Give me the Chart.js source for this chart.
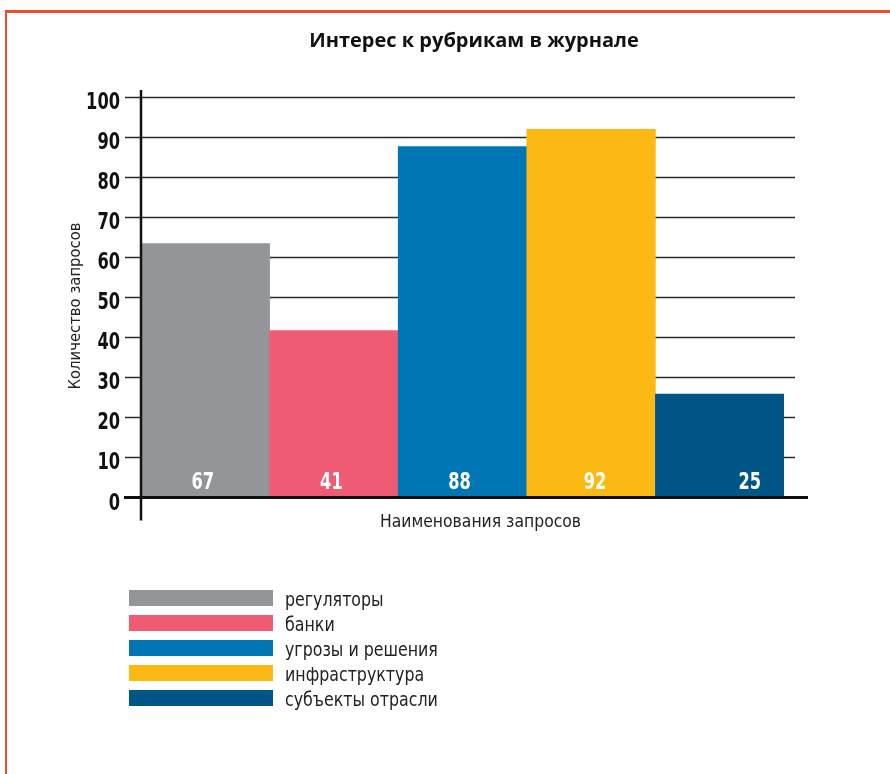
<!DOCTYPE html>
<html>
<head>
<meta charset="utf-8">
<script src="https://cdn.jsdelivr.net/npm/chart.js@4.4.0/dist/chart.umd.min.js"></script>
<style>
  html, body { margin:0; padding:0; background:#fff; }
  #frame { position:absolute; left:5px; top:10px; width:885px; height:764px;
           border-top:3px solid #f04a2d; border-left:2px solid #f04a2d; box-sizing:border-box; }
  #wrap  { position:absolute; left:0; top:0; width:890px; height:774px; }
</style>
</head>
<body>
<div id="frame"></div>
<div id="wrap"><canvas id="chart" width="890" height="774"></canvas></div>
<script>
const chartTitle  = "Интерес к рубрикам в журнале";
const yTitle      = "Количество запросов";
const xTitle      = "Наименования запросов";
const categories  = ["регуляторы", "банки", "угрозы и решения", "инфраструктура", "субъекты отрасли"];
const barValues   = [63.4, 41.7, 87.6, 91.9, 25.8];   // heights as drawn
const valueLabels = ["67", "41", "88", "92", "25"];    // numbers printed on the bars
const yMin = 0, yMax = 100, yStep = 10;

const barColors  = ["#939598", "#f05b74", "#0077b4", "#fdb913", "#005587"];
const labelShift = [-2.5, -2.5, -3, 4, 30];
const COND = "'DejaVu Sans Condensed', 'DejaVu Sans', sans-serif";

// text squeezed horizontally, to get the tall narrow look of the original
function narrowText(ctx, text, x, y, sx, align) {
  ctx.save();
  ctx.translate(x, y);
  ctx.scale(sx, 1);
  ctx.textAlign = align;
  ctx.fillText(text, 0, 0);
  ctx.restore();
}

const decor = {
  id: "decor",
  beforeDatasetsDraw(chart) {
    const {ctx, chartArea: a, scales: {y}} = chart;
    ctx.save();
    ctx.strokeStyle = "#2a2a2a";
    ctx.lineWidth = 1.4;
    y.ticks.forEach(t => {
      if (t.value === yMin) return;
      const py = Math.round(y.getPixelForValue(t.value)) + 0.5;
      ctx.beginPath();
      ctx.moveTo(a.left - 16, py);
      ctx.lineTo(a.right + 11, py);
      ctx.stroke();
    });
    ctx.restore();
  },
  afterDatasetsDraw(chart) {
    const {ctx, chartArea: a, scales: {y}} = chart;
    const y0 = y.getPixelForValue(yMin);
    ctx.save();

    // axes
    ctx.strokeStyle = "#111";
    ctx.lineWidth = 3;
    ctx.beginPath(); ctx.moveTo(a.left - 17, y0); ctx.lineTo(a.right + 24, y0); ctx.stroke();
    ctx.lineWidth = 2.5;
    ctx.beginPath(); ctx.moveTo(a.left, a.top - 7); ctx.lineTo(a.left, y0 + 23); ctx.stroke();

    ctx.textBaseline = "alphabetic";

    // y tick labels
    ctx.fillStyle = "#111";
    ctx.font = "bold 23px " + COND;
    y.ticks.forEach(t => {
      narrowText(ctx, String(t.value), a.left - 21, y.getPixelForValue(t.value) + 12, 0.785, "right");
    });

    // numbers on bars
    ctx.fillStyle = "#fff";
    chart.getDatasetMeta(0).data.forEach((bar, i) => {
      narrowText(ctx, valueLabels[i], bar.x + labelShift[i], y0 - 8.5, 0.785, "center");
    });

    // axis titles
    ctx.fillStyle = "#222";
    ctx.font = "18px " + COND;
    narrowText(ctx, xTitle, 480.5, 527, 0.965, "center");
    ctx.save();
    ctx.translate(80, 306);
    ctx.rotate(-Math.PI / 2);
    ctx.font = "16.5px " + COND;
    ctx.textAlign = "center";
    ctx.fillText(yTitle, 0, 0);
    ctx.restore();

    // chart title
    ctx.fillStyle = "#111";
    ctx.font = "bold 20px 'Open Sans', sans-serif";
    ctx.textAlign = "center";
    ctx.fillText(chartTitle, 474, 46.5);

    // legend
    ctx.font = "20px " + COND;
    categories.forEach((c, i) => {
      const top = 590 + i * 25;
      ctx.fillStyle = barColors[i];
      ctx.fillRect(129, top, 144, 16);
      ctx.fillStyle = "#222";
      narrowText(ctx, c, 285, top + 16, 0.88, "left");
    });
    ctx.restore();
  }
};

new Chart(document.getElementById("chart"), {
  type: "bar",
  data: {
    labels: categories,
    datasets: [{
      data: barValues,
      backgroundColor: barColors,
      borderWidth: 0,
      barPercentage: 1,
      categoryPercentage: 1
    }]
  },
  options: {
    responsive: false,
    animation: false,
    devicePixelRatio: 1,
    layout: {padding: {left: 141, right: 106, top: 97, bottom: 276.5}},
    plugins: {legend: {display: false}, tooltip: {enabled: false}, title: {display: false}},
    scales: {
      x: {display: false},
      y: {display: false, min: yMin, max: yMax, ticks: {stepSize: yStep}}
    }
  },
  plugins: [decor]
});
</script>
</body>
</html>
